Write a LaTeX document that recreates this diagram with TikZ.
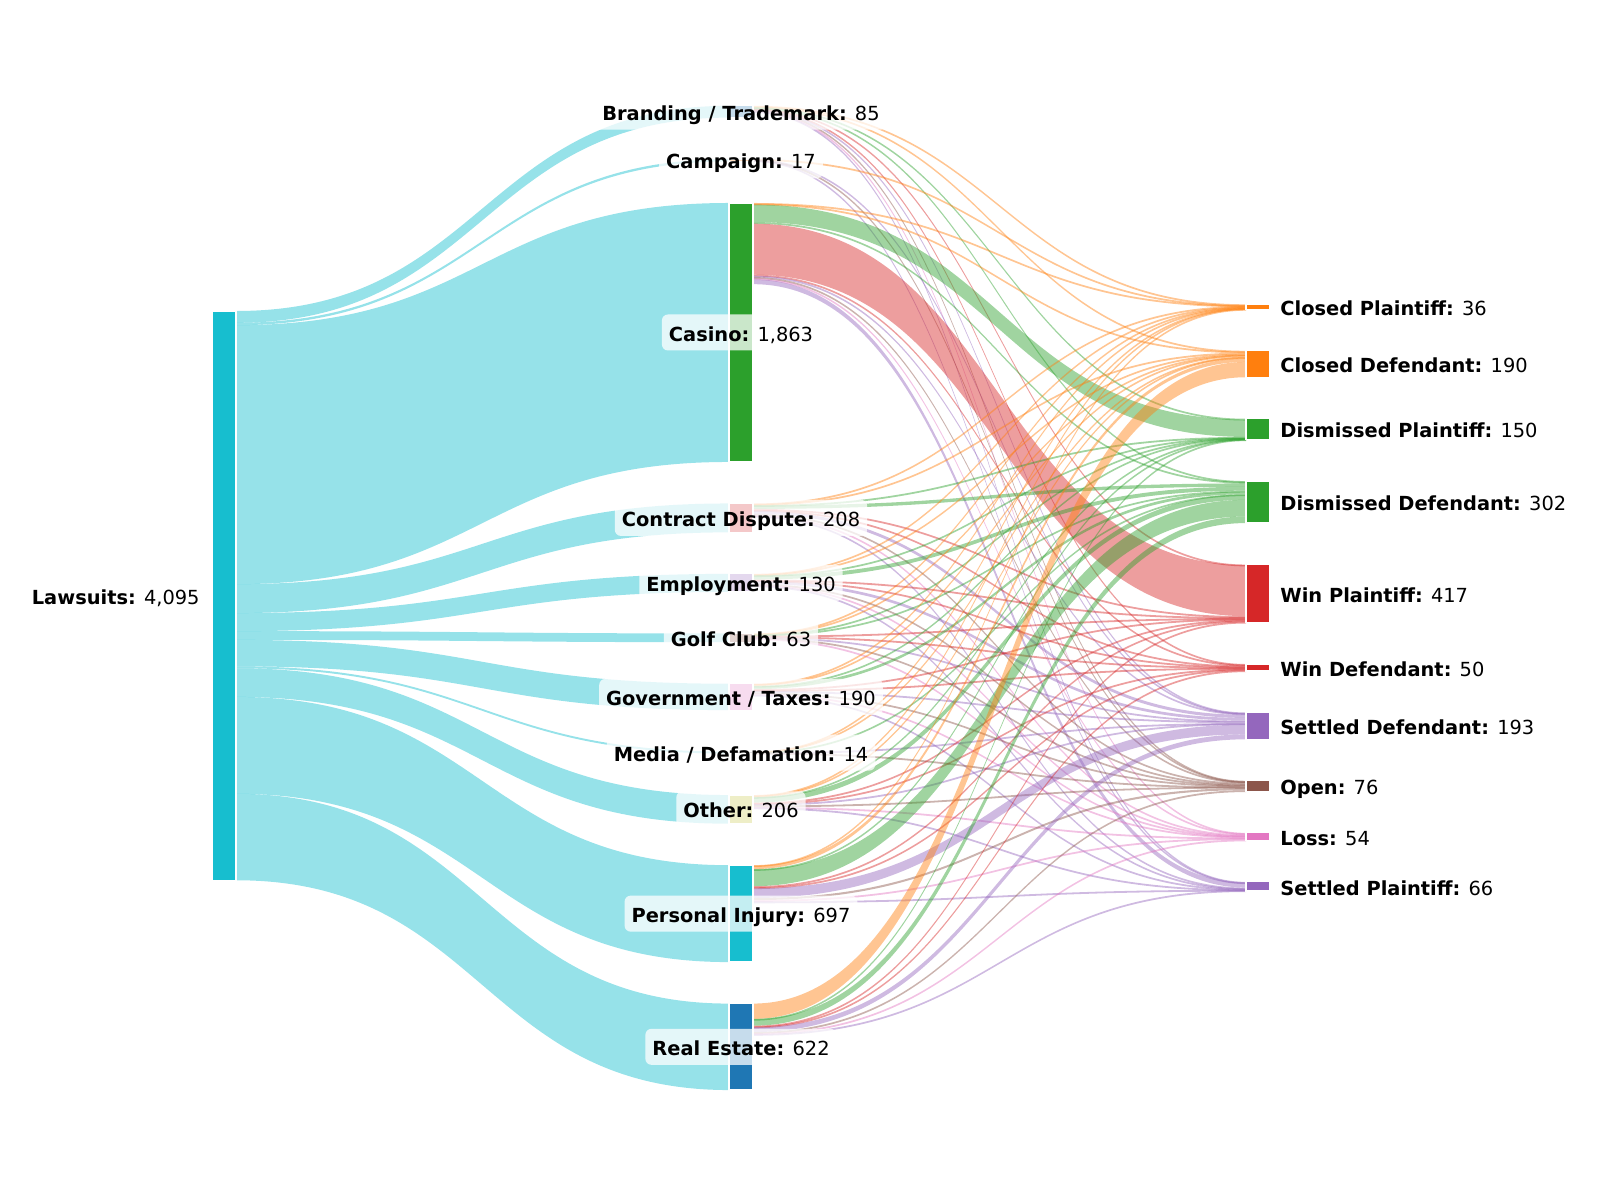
\documentclass[tikz,border=0pt]{standalone}
\usepackage{fontspec}
\setmainfont{DejaVu Sans}
\usetikzlibrary{positioning, calc}

\definecolor{tabblue}{HTML}{1F77B4}
\definecolor{taborange}{HTML}{FF7F0E}
\definecolor{tabgreen}{HTML}{2CA02C}
\definecolor{tabred}{HTML}{D62728}
\definecolor{tabpurple}{HTML}{9467BD}
\definecolor{tabbrown}{HTML}{8C564B}
\definecolor{tabpink}{HTML}{E377C2}
\definecolor{tabgray}{HTML}{7F7F7F}
\definecolor{tabolive}{HTML}{BCBD22}
\definecolor{tabcyan}{HTML}{17BECF}

\pgfdeclarelayer{ribbons}
\pgfsetlayers{ribbons,main}

\tikzset{
  bar/.style={draw=white, line width=0.6pt, minimum width=12pt, inner sep=0pt, outer sep=0pt},
  ribbon/.style={fill=#1, fill opacity=0.45},
  lbl/.style={fill=white, fill opacity=0.75, text opacity=1, rounded corners=3pt,
    inner xsep=3.5pt, inner ysep=4pt, text height=0.93em, text depth=0.07em,
    font=\fontsize{9.7}{12}\selectfont}
}

\def\sc{0.139}  % px per case
\def\gp{41.5}   % gap between bars

% outcome colours
\def\colcp{taborange}\def\colcd{taborange}
\def\coldp{tabgreen}\def\coldd{tabgreen}
\def\colwp{tabred}\def\colwd{tabred}
\def\colsd{tabpurple}\def\colop{tabbrown}
\def\colls{tabpink}\def\colsp{tabpurple}

% one ribbon: source, target, cases, colour
\newcommand{\flow}[4]{%
  \pgfmathsetmacro\offsrc{\csname out#1\endcsname}%
  \pgfmathsetmacro\offtgt{\csname in#2\endcsname}%
  \pgfmathsetmacro\fwid{#3*\sc}%
  \pgfmathsetmacro\fdraw{max(\fwid,1.8)}%
  \fill[ribbon=#4] let \p1=($(#1.north east)+(0,\offsrc)$), \p2=($(#2.north west)+(0,\offtgt)$),
      \p3=($(#1.north east)+(0,{\offsrc+\fdraw})$), \p4=($(#2.north west)+(0,{\offtgt+\fdraw})$) in
    (\p1) .. controls ({(\x1+\x2)/2},\y1) and ({(\x1+\x2)/2},\y2) .. (\p2)
    -- (\p4) .. controls ({(\x1+\x2)/2},\y4) and ({(\x1+\x2)/2},\y3) .. (\p3) -- cycle;
  \pgfmathparse{\offsrc+\fwid}\expandafter\xdef\csname out#1\endcsname{\pgfmathresult}%
  \pgfmathparse{\offtgt+\fwid}\expandafter\xdef\csname in#2\endcsname{\pgfmathresult}%
}
% all ribbons of one source
\newcommand{\flows}[3][]{%
  \foreach \tg/\nv in {#3}{%
    \if\relax\detokenize{#1}\relax\edef\rc{\csname col\tg\endcsname}\else\def\rc{#1}\fi
    \flow{#2}{\tg}{\nv}{\rc}}}

\begin{document}
\begin{tikzpicture}[x=0.5pt, y=-0.5pt]
  \useasboundingbox (0,0) rectangle (1600,1200);

  % bars
  \node[bar, fill=tabcyan, minimum height={4095*\sc*0.5pt}] (law) at (224,{311+4095*\sc/2}) {};
  \xdef\outlaw{0}

  \xdef\ytop{105.8}
  \foreach \nm/\nv/\cl in {brand/85/tabblue, camp/17/taborange, casino/1863/tabgreen, contract/208/tabred,
      employ/130/tabpurple, golf/63/tabbrown, gov/190/tabpink, media/14/tabgray, other/206/tabolive,
      injury/697/tabcyan, estate/622/tabblue}{
    \pgfmathsetmacro\bh{\nv*\sc}
    \node[bar, fill=\cl, minimum height={\bh*0.5pt}] (\nm) at (741,{\ytop+\bh/2}) {};
    \pgfmathparse{\ytop+\bh+\gp}\xdef\ytop{\pgfmathresult}
    \expandafter\xdef\csname in\nm\endcsname{0}
    \expandafter\xdef\csname out\nm\endcsname{0}
  }

  \xdef\ytop{304.3}
  \foreach \nm/\nv/\cl in {cp/36/taborange, cd/190/taborange, dp/150/tabgreen, dd/302/tabgreen,
      wp/417/tabred, wd/50/tabred, sd/193/tabpurple, op/76/tabbrown, ls/54/tabpink, sp/66/tabpurple}{
    \pgfmathsetmacro\bh{\nv*\sc}
    \node[bar, fill=\cl, minimum height={\bh*0.5pt}] (\nm) at (1258,{\ytop+\bh/2}) {};
    \pgfmathparse{\ytop+\bh+\gp}\xdef\ytop{\pgfmathresult}
    \expandafter\xdef\csname in\nm\endcsname{0}
  }

  % ribbons
  \begin{pgfonlayer}{ribbons}
    \flows[tabcyan]{law}{brand/85, camp/17, casino/1863, contract/208, employ/130, golf/63, gov/190, media/14, other/206, injury/697, estate/622}
    \flows{brand}{cp/5, cd/5, dp/6, dd/5, wp/4, wd/4, sd/4, op/3, ls/3, sp/3}
    \flows{camp}{cp/3, sd/3, op/3, sp/3}
    \flows{casino}{cp/4, cd/8, dp/125, dd/12, wp/367, wd/7, sd/10, op/8, ls/8, sp/35}
    \flows{contract}{cp/4, cd/8, dp/3, dd/24, wp/8, wd/6, sd/22, op/8, ls/6, sp/5}
    \flows{employ}{cp/4, cd/6, dp/3, dd/28, wp/6, wd/5, sd/20, op/6, ls/5, sp/4}
    \flows{golf}{cp/3, cd/4, dp/3, dd/6, wp/5, wd/5, sd/5, op/5, ls/4}
    \flows{gov}{cp/4, cd/12, dp/3, dd/20, wp/7, wd/6, sd/12, op/8, ls/8, sp/4}
    \flows{media}{cp/2, cd/2, dd/2, sd/2, op/2}
    \flows{other}{cp/4, cd/10, dp/2, dd/38, wp/6, wd/5, sd/10, op/10, ls/4, sp/3}
    \flows{injury}{cp/3, cd/25, dp/3, dd/120, wp/8, wd/7, sd/70, op/15, ls/10, sp/3}
    \flows{estate}{cd/110, dp/2, dd/47, wp/6, wd/5, sd/35, op/8, ls/6, sp/6}
  \end{pgfonlayer}

  % labels
  \node[lbl, left=2.5pt of law] (lawlbl) {\textbf{Lawsuits:} 4,095};

  \node[lbl] (brandlbl) at (brand) {\textbf{Branding / Trademark:} 85};
  \node[lbl] (camplbl) at (camp) {\textbf{Campaign:} 17};
  \node[lbl] (casinolbl) at (casino) {\textbf{Casino:} 1,863};
  \node[lbl] (contractlbl) at (contract) {\textbf{Contract Dispute:} 208};
  \node[lbl] (employlbl) at (employ) {\textbf{Employment:} 130};
  \node[lbl] (golflbl) at (golf) {\textbf{Golf Club:} 63};
  \node[lbl] (govlbl) at (gov) {\textbf{Government / Taxes:} 190};
  \node[lbl] (medialbl) at (media) {\textbf{Media / Defamation:} 14};
  \node[lbl] (otherlbl) at (other) {\textbf{Other:} 206};
  \node[lbl] (injurylbl) at (injury) {\textbf{Personal Injury:} 697};
  \node[lbl] (estatelbl) at (estate) {\textbf{Real Estate:} 622};

  \node[lbl, right=1.5pt of cp] (cplbl) {\textbf{Closed Plaintiff:} 36};
  \node[lbl, right=1.5pt of cd] (cdlbl) {\textbf{Closed Defendant:} 190};
  \node[lbl, right=1.5pt of dp] (dplbl) {\textbf{Dismissed Plaintiff:} 150};
  \node[lbl, right=1.5pt of dd] (ddlbl) {\textbf{Dismissed Defendant:} 302};
  \node[lbl, right=1.5pt of wp] (wplbl) {\textbf{Win Plaintiff:} 417};
  \node[lbl, right=1.5pt of wd] (wdlbl) {\textbf{Win Defendant:} 50};
  \node[lbl, right=1.5pt of sd] (sdlbl) {\textbf{Settled Defendant:} 193};
  \node[lbl, right=1.5pt of op] (oplbl) {\textbf{Open:} 76};
  \node[lbl, right=1.5pt of ls] (lslbl) {\textbf{Loss:} 54};
  \node[lbl, right=1.5pt of sp] (splbl) {\textbf{Settled Plaintiff:} 66};
\end{tikzpicture}
\end{document}
